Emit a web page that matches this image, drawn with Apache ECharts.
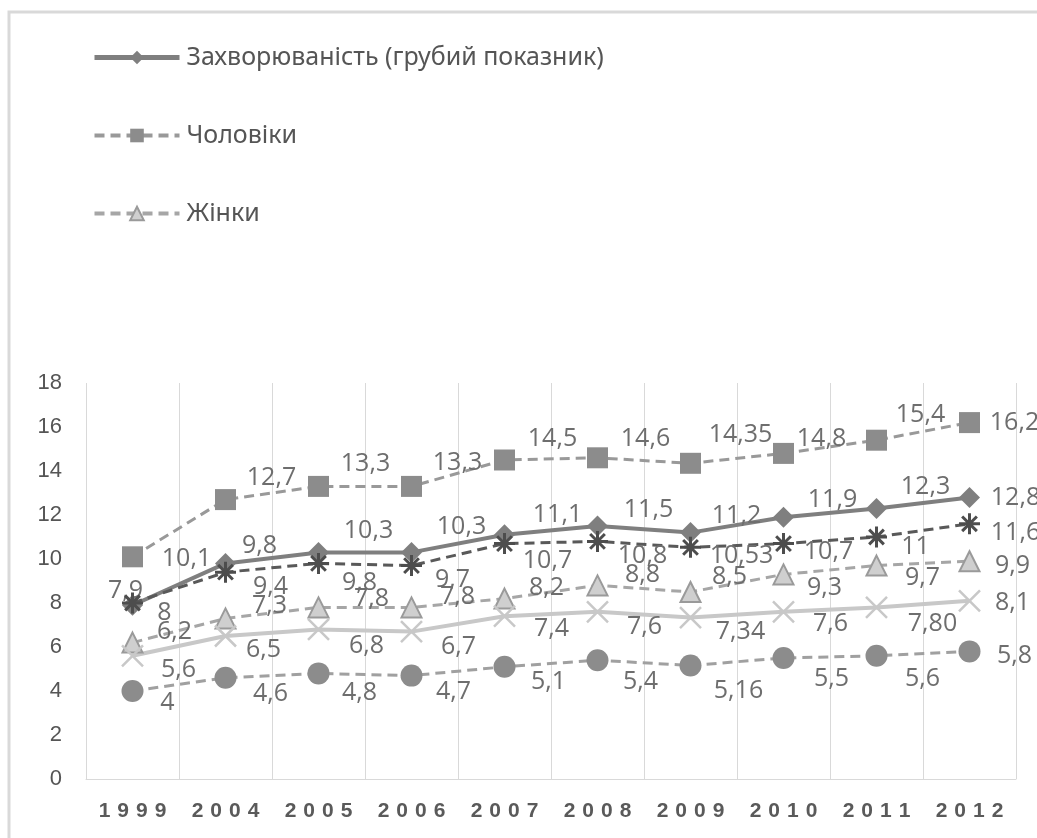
<!DOCTYPE html>
<html>
<head>
<meta charset="utf-8">
<script src="https://cdn.jsdelivr.net/npm/echarts@6/dist/echarts.min.js"></script>
<style>
    html, body { margin: 0; padding: 0; background: #fff; }
    #chart { width: 1037px; height: 838px; }
</style>
</head>
<body>
<div id="chart"></div>
<script>
// Роки | Categories
const years = ['1999', '2004', '2005', '2006', '2007', '2008', '2009', '2010', '2011', '2012'];

// Серії | Series values
const crudeRate = [7.9, 9.8, 10.3, 10.3, 11.1, 11.5, 11.2, 11.9, 12.3, 12.8];
const menRate = [10.1, 12.7, 13.3, 13.3, 14.5, 14.6, 14.35, 14.8, 15.4, 16.2];
const womenRate = [6.2, 7.3, 7.8, 7.8, 8.2, 8.8, 8.5, 9.3, 9.7, 9.9];
const series4 = [8, 9.4, 9.8, 9.7, 10.7, 10.8, 10.53, 10.7, 11, 11.6];
const series5 = [5.6, 6.5, 6.8, 6.7, 7.4, 7.6, 7.34, 7.6, 7.80, 8.1];
const series6 = [4, 4.6, 4.8, 4.7, 5.1, 5.4, 5.16, 5.5, 5.6, 5.8];

// Текст підписів (як у оригіналі) | label texts as printed
const series5Text = ['5,6', '6,5', '6,8', '6,7', '7,4', '7,6', '7,34', '7,6', '7,80', '8,1'];

// Підписи осі Y | Y tick labels
const yTicks = [0, 2, 4, 6, 8, 10, 12, 14, 16, 18];

const seriesNames = ['Захворюваність (грубий показник)', 'Чоловіки', 'Жінки', 'Ряд 4', 'Ряд 5', 'Ряд 6'];

// Зсуви підписів від точки (стиль, не дані) | label offsets in px
const offCrude = [[-7, -14], [34, -18], [50, -22], [50, -26], [53, -20], [51, -16], [46, -17], [49, -17], [49, -22], [46, 0]];
const offMen = [[54, 2], [46, -22], [47, -23], [46, -24], [48, -21], [48, -19], [50, -28], [38, -15], [44, -25], [45, 0]];
const offWomen = [[42, -11], [44, -13], [53, -9], [46, -11], [42, -11], [45, -11], [39, -15], [41, 13], [46, 12], [43, 5]];
const off4 = [[32, 10], [45, 15], [41, 19], [41, 14], [43, 17], [45, 14], [51, 9], [45, 8], [39, 10], [46, 9]];
const off5 = [[46, 14], [38, 14], [48, 16], [47, 15], [47, 13], [47, 15], [50, 14], [47, 12], [56, 16], [43, 2]];
const off6 = [[35, 12], [45, 16], [41, 19], [42, 16], [44, 15], [43, 22], [48, 25], [48, 21], [46, 23], [45, 4]];

const chart = echarts.init(document.getElementById('chart'));

const labelFont = {
    color: '#6e6e6e',
    fontSize: 25,
    fontFamily: 'Open Sans, sans-serif'
};

function comma(v) {
    return String(v).replace('.', ',');
}

function lineSeries(name, values, offsets, opts) {
    return {
        name: name,
        type: 'line',
        data: values,
        symbol: opts.symbol,
        symbolSize: opts.size,
        showAllSymbol: true,
        lineStyle: { color: opts.color, width: opts.width, type: opts.dash ? [10, 6] : 'solid' },
        itemStyle: opts.item,
        label: Object.assign({
            show: true,
            position: 'inside',
            formatter: p => opts.texts ? opts.texts[p.dataIndex] : comma(p.value)
        }, labelFont),
        // зсув кожного підпису | shift each label
        labelLayout: p => ({
            dx: offsets[p.dataIndex][0],
            dy: offsets[p.dataIndex][1],
            hideOverlap: false
        }),
        emphasis: { disabled: true },
        z: opts.z || 2
    };
}

const option = {
    animation: false,
    backgroundColor: '#fff',
    graphic: [{
        type: 'rect',
        shape: { x: 9, y: 12, width: 1060, height: 860 },
        style: { fill: 'none', stroke: '#d9d9d9', lineWidth: 3 },
        silent: true
    }],
    legend: {
        data: [
            { name: seriesNames[0], lineStyle: { width: 5 } },
            { name: seriesNames[1], lineStyle: { width: 4 } },
            { name: seriesNames[2], lineStyle: { width: 4 } }
        ],
        orient: 'vertical',
        left: 87,
        top: 40,
        itemWidth: 85,
        itemHeight: 17,
        itemGap: 53,
        textStyle: {
            color: '#555555',
            fontSize: 25,
            fontFamily: 'Noto Sans, sans-serif',
            padding: [0, 0, 0, 2]
        }
    },
    grid: { left: 86, right: 21, top: 383, bottom: 59 },
    xAxis: {
        type: 'category',
        data: years,
        boundaryGap: true,
        axisLine: { lineStyle: { color: '#d9d9d9', width: 1 } },
        axisTick: { show: false },
        splitLine: { show: true, lineStyle: { color: '#d9d9d9', width: 1 } },
        axisLabel: {
            interval: 0,
            color: '#5a5a5a',
            fontSize: 21,
            fontWeight: 'bold',
            margin: 22,
            fontFamily: 'Liberation Sans, sans-serif',
            formatter: v => v.split('').join('\u2004')
        }
    },
    yAxis: {
        type: 'value',
        min: yTicks[0],
        max: yTicks[yTicks.length - 1],
        interval: 2,
        splitLine: { show: false },
        axisLine: { show: false },
        axisTick: { show: false },
        axisLabel: {
            color: '#555555',
            fontSize: 22,
            margin: 24,
            fontFamily: 'Liberation Sans, sans-serif'
        }
    },
    series: [
        lineSeries(seriesNames[0], crudeRate, offCrude, {
            symbol: 'diamond', size: 21, color: '#7f7f7f', width: 4, dash: false,
            item: { color: '#7f7f7f' }, z: 3
        }),
        lineSeries(seriesNames[1], menRate, offMen, {
            symbol: 'rect', size: 21, color: '#999999', width: 3, dash: true,
            item: { color: '#8c8c8c' }
        }),
        lineSeries(seriesNames[2], womenRate, offWomen, {
            symbol: 'triangle', size: 20, color: '#a6a6a6', width: 3, dash: true,
            item: { color: '#cfcfcf', borderColor: '#9a9a9a', borderWidth: 2 }
        }),
        lineSeries(seriesNames[3], series4, off4, {
            symbol: 'path://M0,5L10,5M5,0L5,10M1.5,1.5L8.5,8.5M8.5,1.5L1.5,8.5', size: 21,
            color: '#595959', width: 3, dash: true,
            item: { color: 'none', borderColor: '#4d4d4d', borderWidth: 3 }, z: 4
        }),
        lineSeries(seriesNames[4], series5, off5, {
            symbol: 'path://M0,0L10,10M10,0L0,10', size: 21,
            color: '#c8c8c8', width: 4, dash: false, texts: series5Text,
            item: { color: 'none', borderColor: '#c8c8c8', borderWidth: 2.5 }
        }),
        lineSeries(seriesNames[5], series6, off6, {
            symbol: 'circle', size: 22, color: '#a0a0a0', width: 3, dash: true,
            item: { color: '#8c8c8c' }
        })
    ]
};

chart.setOption(option);
</script>
</body>
</html>
